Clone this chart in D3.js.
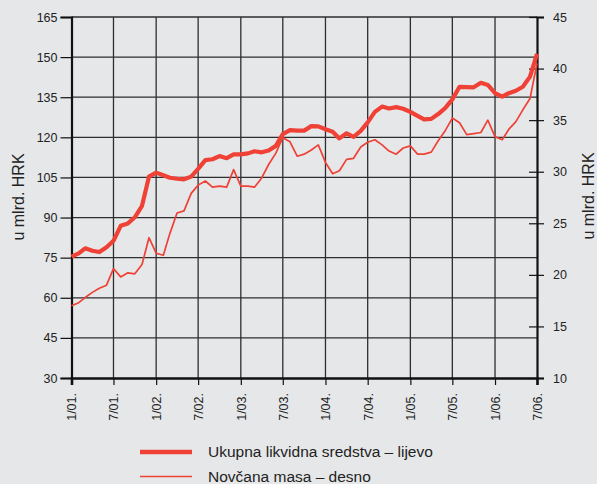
<!DOCTYPE html>
<html>
<head>
<meta charset="utf-8">
<script src="https://cdn.jsdelivr.net/npm/d3@7"></script>
<style>
  html, body { margin: 0; padding: 0; background: #e6e7e9; }
  svg { display: block; overflow: visible; font-family: "Liberation Sans", Arial, Helvetica, sans-serif; }
</style>
</head>
<body>
<svg id="drawing_region"></svg>
<script>
// monthly, 1/2001 .. 7/2006
var startMonth = new Date(2001, 0, 1);
var endMonth = new Date(2006, 6, 1);

// Ukupna likvidna sredstva (lijevo, mlrd. HRK)
var liquid = [75.4, 76.6, 78.5, 77.6, 77.1, 78.9, 81.3, 86.9, 87.8, 90.1, 94.4, 105.3,
              106.8, 105.8, 104.9, 104.5, 104.3, 105.3, 108.2, 111.5, 111.8, 113.0, 112.2, 113.6,
              113.6, 114.0, 114.8, 114.4, 115.1, 116.8, 121.2, 122.7, 122.5, 122.5, 124.2, 124.1,
              123.0, 122.1, 119.6, 121.5, 120.2, 122.4, 125.6, 129.5, 131.5, 130.8, 131.3, 130.7,
              129.5, 128.0, 126.7, 126.9, 128.7, 131.0, 134.2, 138.9, 138.8, 138.7, 140.4, 139.6,
              136.5, 135.2, 136.5, 137.4, 138.9, 142.7, 151.2];

// Novcana masa (desno, mlrd. HRK)
var money = [17.0, 17.3, 17.8, 18.3, 18.7, 19.0, 20.6, 19.8, 20.2, 20.1, 21.0, 23.6,
             22.1, 21.9, 24.0, 26.0, 26.2, 27.9, 28.7, 29.1, 28.5, 28.6, 28.5, 30.2,
             28.6, 28.6, 28.5, 29.4, 30.7, 31.8, 33.3, 32.9, 31.5, 31.7, 32.1, 32.6,
             30.9, 29.8, 30.1, 31.2, 31.3, 32.4, 32.85, 33.1, 32.6, 32.0, 31.7, 32.3,
             32.5, 31.7, 31.7, 31.9, 33.0, 34.0, 35.2, 34.75, 33.6, 33.7, 33.8, 35.0,
             33.4, 33.1, 34.1, 34.85, 36.0, 37.1, 40.5];

var xTickLabels = ['1/01.', '7/01.', '1/02.', '7/02.', '1/03.', '7/03.',
                   '1/04.', '7/04.', '1/05.', '7/05.', '1/06.', '7/06.'];
var leftTicks = [30, 45, 60, 75, 90, 105, 120, 135, 150, 165];
var rightTicks = [10, 15, 20, 25, 30, 35, 40, 45];
var legendLabels = ['Ukupna likvidna sredstva \u2013 lijevo', 'Nov\u010dana masa \u2013 desno'];

var width = 597;
var height = 484;
var margin = {top: 17, right: 60, bottom: 106, left: 71.5};
var innerWidth = 537 - margin.left;
var innerHeight = 378 - margin.top;
var red = '#ef4136';

var svg = d3.select('#drawing_region')
      .attr('width', width)
      .attr('height', height);

var chart = svg.append('g')
      .attr('transform', `translate(${margin.left}, ${margin.top})`);

var months = d3.timeMonth.range(startMonth, d3.timeMonth.offset(endMonth, 1));
var tickDates = d3.timeMonth.every(6).range(startMonth, d3.timeMonth.offset(endMonth, 1));

var xscale = d3.scaleTime()
      .domain([startMonth, endMonth])
      .range([0, innerWidth]);
var yLeft = d3.scaleLinear()
      .domain([30, 165])
      .range([innerHeight, 0]);
var yRight = d3.scaleLinear()
      .domain([10, 45])
      .range([innerHeight, 0]);

// grid
chart.append('g')
      .selectAll('line.h')
      .data(leftTicks.slice(1))
      .enter().append('line')
      .attr('x1', 0).attr('x2', innerWidth)
      .attr('y1', d => yLeft(d)).attr('y2', d => yLeft(d))
      .attr('stroke', '#2e2e2e').attr('stroke-width', 1.3);
chart.append('g')
      .selectAll('line.v')
      .data(tickDates.slice(1, -1))
      .enter().append('line')
      .attr('x1', d => xscale(d)).attr('x2', d => xscale(d))
      .attr('y1', 0).attr('y2', innerHeight)
      .attr('stroke', '#2e2e2e').attr('stroke-width', 1.3);

// left axis
var leftAxis = chart.append('g')
      .call(d3.axisLeft(yLeft).tickValues(leftTicks).tickSize(11).tickPadding(3));
leftAxis.select('.domain').attr('stroke-width', 2.2);
leftAxis.selectAll('line').attr('stroke-width', 1.2);

// right axis
var rightAxis = chart.append('g')
      .attr('transform', `translate(${innerWidth}, 0)`)
      .call(d3.axisRight(yRight).tickValues(rightTicks).tickSize(7).tickPadding(9));
rightAxis.select('.domain').attr('stroke-width', 2.2);
rightAxis.selectAll('.tick line').attr('x1', -8).attr('stroke-width', 1.2);

// bottom axis
var xAxis = chart.append('g')
      .attr('transform', `translate(0, ${innerHeight})`)
      .call(d3.axisBottom(xscale).tickValues(tickDates).tickSize(7)
            .tickFormat((d, i) => xTickLabels[i]));
xAxis.select('.domain').attr('stroke-width', 2.6);
xAxis.selectAll('line').attr('stroke-width', 1.2);
xAxis.selectAll('text')
      .attr('transform', 'rotate(-90)')
      .attr('text-anchor', 'end')
      .attr('x', -15)
      .attr('y', 0)
      .attr('dy', '0.35em');

[leftAxis, rightAxis, xAxis].forEach(a => {
  a.selectAll('text').attr('font-size', 12.5).attr('fill', '#222')
        .attr('font-family', '"Liberation Sans", Arial, sans-serif');
  a.selectAll('.domain, line').attr('stroke', '#111');
});

// lines
var lineLeft = d3.line()
      .x((d, i) => xscale(months[i]))
      .y(d => yLeft(d));
var lineRight = d3.line()
      .x((d, i) => xscale(months[i]))
      .y(d => yRight(d));

chart.append('path')
      .attr('d', lineRight(money))
      .attr('fill', 'none')
      .attr('stroke', red)
      .attr('stroke-width', 1.7)
      .attr('stroke-linejoin', 'round');

chart.append('path')
      .attr('d', lineLeft(liquid))
      .attr('fill', 'none')
      .attr('stroke', red)
      .attr('stroke-width', 4.2)
      .attr('stroke-linejoin', 'round');

// axis titles
svg.append('text')
      .attr('transform', 'translate(24, 197) rotate(-90)')
      .attr('text-anchor', 'middle')
      .attr('font-size', 16)
      .attr('fill', '#222')
      .text('u mlrd. HRK');
svg.append('text')
      .attr('transform', 'translate(594, 196) rotate(-90)')
      .attr('text-anchor', 'middle')
      .attr('font-size', 16)
      .attr('fill', '#222')
      .text('u mlrd. HRK');

// legend
var legend = svg.append('g')
      .selectAll('g')
      .data(legendLabels)
      .enter().append('g')
      .attr('transform', (d, i) => `translate(140, ${452 + i * 24.5})`);
legend.append('line')
      .attr('x1', 0).attr('x2', 52)
      .attr('stroke', red)
      .attr('stroke-width', (d, i) => i === 0 ? 4.5 : 1.7);
legend.append('text')
      .attr('x', 68)
      .attr('dy', '0.35em')
      .attr('font-size', 15.5)
      .attr('fill', '#222')
      .text(d => d);
</script>
</body>
</html>
